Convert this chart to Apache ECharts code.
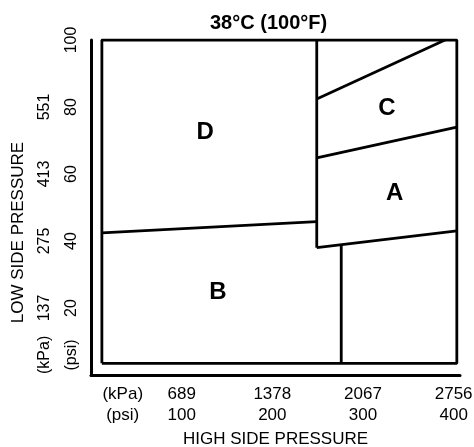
<!DOCTYPE html>
<html>
<head>
<meta charset="utf-8">
<script src="https://cdn.jsdelivr.net/npm/echarts@6/dist/echarts.min.js"></script>
<style>html,body{margin:0;padding:0;background:#fff}#c{width:474px;height:447px}</style>
</head>
<body>
<div id="c"></div>
<script>
// ---- data (psi units) ----
var titleText = '38\u00B0C (100\u00B0F)';
var xTickPsi = [35, 100, 200, 300, 400];
var xTickKpaLabels = ['(kPa)', '689', '1378', '2067', '2756'];
var xTickPsiLabels = ['(psi)', '100', '200', '300', '400'];
var yTickPsi = [6, 20, 40, 60, 80, 100];
var yTickPsiLabels = ['(psi)', '20', '40', '60', '80', '100'];
var yTickKpa = [6, 20, 40, 60, 80];
var yTickKpaLabels = ['(kPa)', '137', '275', '413', '551'];

var boxOutline = [[12, 3.5], [403.5, 3.5], [403.5, 100], [12, 100], [12, 3.5]];
var dVertical = [[249, 100], [249, 38]];
var dbLine = [[12, 42.4], [249, 45.8]];
var aBottom = [[249, 38], [403.5, 43]];
var bVertical = [[276, 38.9], [276, 3.5]];
var caLine = [[249, 64.8], [403.5, 74]];
var cTop = [[249, 82.4], [390.5, 100]];
var regionNames = ['D', 'C', 'A', 'B'];
var regionPos = [[126, 72.5], [326.5, 79.7], [335, 54.3], [140, 24.8]];

var FONT = "'Liberation Sans', Arial, sans-serif";
var segs = [boxOutline, dVertical, dbLine, aBottom, bVertical, caLine, cTop];

function lut(vals, labels) {
  return function (v) {
    for (var i = 0; i < vals.length; i++) if (Math.abs(vals[i] - v) < 1e-6) return labels[i];
    return '';
  };
}

var series = segs.map(function (s) {
  return {
    type: 'line', data: s, symbol: 'none', silent: true,
    lineStyle: { color: '#000', width: 2.8 }, z: 3
  };
});
series.push({
  type: 'scatter', symbolSize: 1, silent: true,
  itemStyle: { color: '#000', opacity: 0 },
  emphasis: { disabled: true },
  data: regionNames.map(function (n, i) { return { name: n, value: regionPos[i] }; }),
  label: {
    show: true, position: 'inside', formatter: '{b}', color: '#000', opacity: 1,
    textBorderWidth: 0, fontFamily: FONT, fontWeight: 900, fontSize: 24
  }
});

var chart = echarts.init(document.getElementById('c'));
chart.setOption({
  animation: false,
  title: {
    text: titleText, left: 210, top: 13, padding: 0,
    textStyle: { fontFamily: FONT, fontWeight: 'bold', fontSize: 20, color: '#000' }
  },
  grid: { left: 91, right: 14, top: 40, bottom: 72, containLabel: false, outerBoundsMode: 'none' },
  xAxis: [{
    type: 'value', min: 0, max: 407, position: 'bottom',
    splitLine: { show: false }, axisTick: { show: false },
    axisLine: { show: true, lineStyle: { color: '#000', width: 3 } },
    axisLabel: {
      customValues: xTickPsi, margin: 9, color: '#000', fontFamily: FONT, fontSize: 17, lineHeight: 21,
      formatter: function (v) {
        var k = lut(xTickPsi, xTickKpaLabels)(v), p = lut(xTickPsi, xTickPsiLabels)(v);
        return k + '\n' + p;
      }
    },
    name: 'HIGH SIDE PRESSURE', nameLocation: 'middle', nameGap: 53,
    nameTextStyle: { fontFamily: FONT, fontSize: 17, color: '#000' }
  }],
  yAxis: [{
    type: 'value', min: 0, max: 100, position: 'left',
    splitLine: { show: false }, axisTick: { show: false },
    axisLine: { show: true, lineStyle: { color: '#000', width: 3 } },
    axisLabel: {
      customValues: yTickPsi, rotate: 90, margin: 11, color: '#000', fontFamily: FONT, fontSize: 16,
      formatter: lut(yTickPsi, yTickPsiLabels)
    }
  }, {
    type: 'value', min: 0, max: 100, position: 'left',
    splitLine: { show: false }, axisTick: { show: false },
    axisLine: { show: false },
    axisLabel: {
      customValues: yTickKpa, rotate: 90, margin: 38, color: '#000', fontFamily: FONT, fontSize: 16,
      formatter: lut(yTickKpa, yTickKpaLabels)
    },
    name: 'LOW SIDE PRESSURE', nameLocation: 'middle', nameGap: 64, nameRotate: 90,
    nameTextStyle: { fontFamily: FONT, fontSize: 17, color: '#000', padding: [0, 50, 0, 0] }
  }],
  series: series
});
</script>
</body>
</html>
